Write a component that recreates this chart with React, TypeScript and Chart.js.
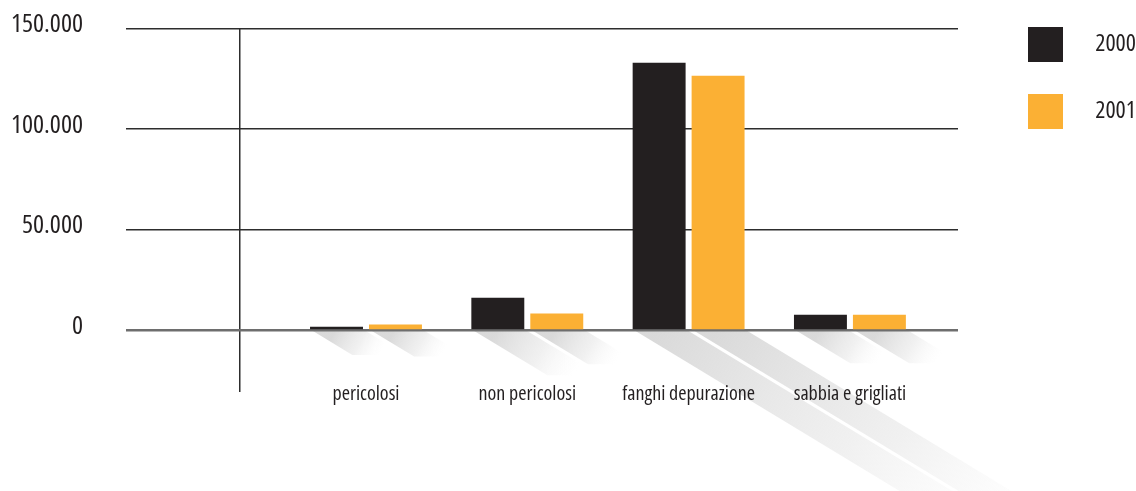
import { useEffect, useRef } from 'react';
import { Chart, registerables } from 'chart.js';

Chart.register(...registerables);

// ---- data ----
const categories = ['pericolosi', 'non pericolosi', 'fanghi depurazione', 'sabbia e grigliati'];
const seriesLabels = ['2000', '2001'];
const values2000 = [1800, 16300, 133000, 7800];
const values2001 = [3000, 8400, 126500, 7800];
const yTicks = [0, 50000, 100000, 150000];
const yMax = 150000;
const yMin = -24600;
const xMin = 0.219;
const xMax = 4.67;

const seriesColors = ['#231f20', '#fbb034'];
const TEXT = '#231f20';
const LINE = '#2d2d2d';
const FAMILY = "'Open Sans', 'DejaVu Sans Condensed', sans-serif";
const STRETCH = '500 condensed';

const fmt = (v: number) => String(v).replace(/\B(?=(\d{3})+(?!\d))/g, '.');

const shadowPlugin = {
  id: 'barShadows',
  beforeDraw(chart: any) {
    const ctx = chart.ctx;
    ctx.save();
    chart.data.datasets.forEach((_ds: any, di: number) => {
      const meta = chart.getDatasetMeta(di);
      meta.data.forEach((bar: any) => {
        const { x, y, base, width } = bar.getProps(['x', 'y', 'base', 'width'], true);
        const h = base - y;
        const len = 24 + 0.7 * h;
        const dy = len;
        const dx = len * 1.65;
        const l = x - width / 2;
        const r = x + width / 2;
        const g = ctx.createLinearGradient(x, base, x + dx, base + dy);
        g.addColorStop(0, 'rgba(208,208,208,0.8)');
        g.addColorStop(0.55, 'rgba(226,226,226,0.5)');
        g.addColorStop(1, 'rgba(245,245,245,0)');
        ctx.fillStyle = g;
        ctx.beginPath();
        ctx.moveTo(l, base);
        ctx.lineTo(r, base);
        ctx.lineTo(r + dx, base + dy);
        ctx.lineTo(l + dx, base + dy);
        ctx.closePath();
        ctx.fill();
      });
    });
    ctx.restore();
  },
};

const legendWidthPlugin = {
  id: 'legendWidth',
  afterInit(chart: any) {
    const lg = chart.legend;
    if (!lg) return;
    const fit = lg.fit;
    lg.fit = function () {
      fit.call(this);
      this.width = 140;
    };
  },
};

export default function App() {
  const ref = useRef<HTMLCanvasElement | null>(null);

  useEffect(() => {
    if (!ref.current) return;
    const chart = new Chart(ref.current, {
      type: 'bar',
      data: {
        datasets: [
          {
            label: seriesLabels[0],
            data: values2000.map((v, i) => ({ x: i + 1, y: v })),
            backgroundColor: seriesColors[0],
            borderWidth: 0,
          },
          {
            label: seriesLabels[1],
            data: values2001.map((v, i) => ({ x: i + 1, y: v })),
            backgroundColor: seriesColors[1],
            borderWidth: 0,
          },
        ],
      },
      options: {
        animation: false,
        responsive: true,
        maintainAspectRatio: false,
        events: [],
        categoryPercentage: 0.936,
        barPercentage: 0.898,
        layout: { padding: { top: -5, right: 0, bottom: 0, left: 0 } },
        plugins: {
          tooltip: { enabled: false },
          legend: {
            position: 'right',
            align: 'start',
            labels: {
              boxWidth: 35,
              boxHeight: 35,
              padding: 32,
              textAlign: 'right',
              color: TEXT,
              font: { family: FAMILY, weight: STRETCH, size: 24 },
            },
          },
        },
        scales: {
          x: {
            type: 'linear',
            min: xMin,
            max: xMax,
            offset: false,
            grid: {
              display: true,
              drawOnChartArea: true,
              drawTicks: true,
              tickLength: 12,
              offset: false,
              lineWidth: 1.5,
              color: (c: any) => (c.tick && c.tick.value === xMin ? LINE : 'rgba(0,0,0,0)'),
            },
            border: { display: false },
            afterBuildTicks: (s: any) => {
              s.ticks = [{ value: xMin }, ...categories.map((_c, i) => ({ value: i + 1 }))];
            },
            ticks: {
              autoSkip: false,
              maxRotation: 0,
              padding: -10,
              color: TEXT,
              font: { family: FAMILY, weight: STRETCH, size: 20, lineHeight: 1.2 },
              callback: (v: any) => categories[Math.round(Number(v)) - 1] ?? '',
            },
            afterFit: (s: any) => {
              s.height = 111;
            },
          },
          y: {
            type: 'linear',
            position: 'left',
            min: yMin,
            max: yMax,
            grid: {
              color: (c: any) => (c.tick && c.tick.value === 0 ? '#6e6e6e' : LINE),
              lineWidth: (c: any) => (c.tick && c.tick.value === 0 ? 2.5 : 1.5),
              tickLength: 114,
              drawTicks: true,
            },
            border: { display: false },
            afterBuildTicks: (s: any) => {
              s.ticks = yTicks.map((v) => ({ value: v }));
            },
            ticks: {
              padding: 43,
              labelOffset: -4,
              color: TEXT,
              font: { family: FAMILY, weight: STRETCH, size: 26 },
              callback: (v: any) => fmt(Number(v)),
            },
            afterFit: (s: any) => {
              s.width = 240;
              s.paddingTop = 28.5;
            },
          },
          gap: {
            type: 'linear',
            position: 'right',
            display: true,
            grid: { display: false, drawTicks: false },
            border: { display: false },
            ticks: { display: false },
            afterFit: (s: any) => {
              s.width = 38;
            },
          },
        },
      } as any,
      plugins: [shadowPlugin, legendWidthPlugin],
    });
    return () => chart.destroy();
  }, []);

  return (
    <div style={{ position: 'fixed', left: 0, top: 0, width: 1136, height: 491, background: '#fff' }}>
      <canvas ref={ref} />
    </div>
  );
}
